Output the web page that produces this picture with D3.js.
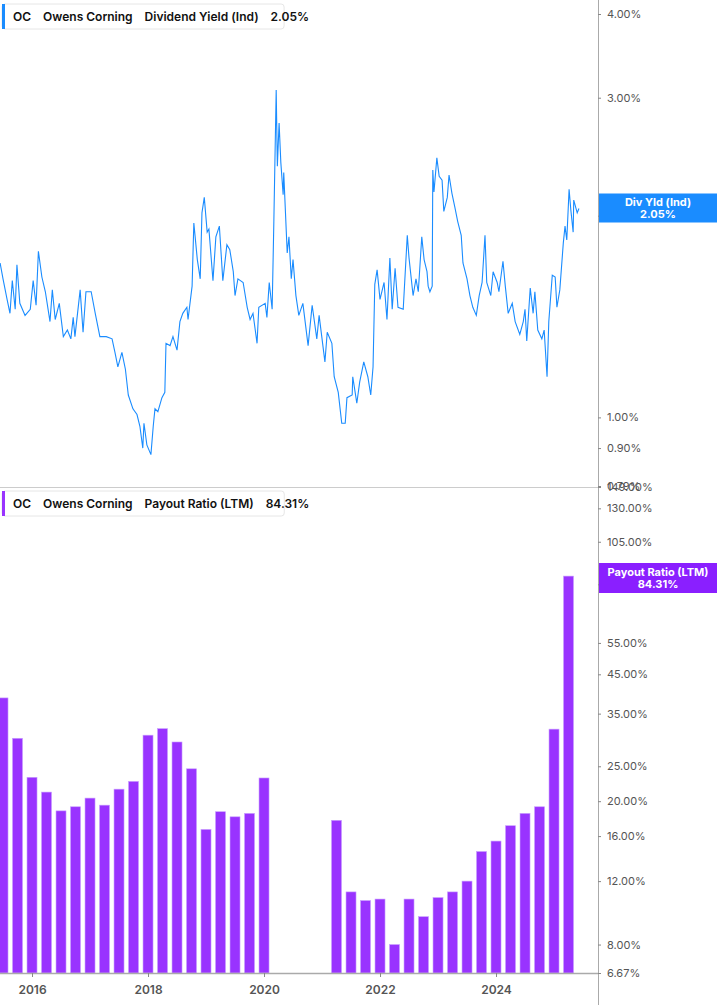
<!DOCTYPE html>
<html>
<head>
<meta charset="utf-8">
<script src="https://cdn.jsdelivr.net/npm/d3@7"></script>
<style>
  body { margin: 0; background: #fff; font-family: Inter, 'Noto Sans', sans-serif; }
  svg text { font-family: Inter, 'Noto Sans', sans-serif; }
</style>
</head>
<body>
<svg id="chart" width="717" height="1005"></svg>
<script>
// Dividend yield (decimal year, %)
const yieldYears = [2015.45,2015.50,2015.57,2015.62,2015.66,2015.71,2015.74,2015.79,2015.88,2015.97,2016.02,2016.07,2016.11,2016.17,2016.23,2016.31,2016.35,2016.40,2016.47,2016.54,2016.61,2016.67,2016.71,2016.74,2016.83,2016.88,2016.93,2017.02,2017.09,2017.17,2017.28,2017.38,2017.43,2017.48,2017.55,2017.61,2017.66,2017.74,2017.81,2017.86,2017.91,2017.93,2017.98,2018.05,2018.09,2018.12,2018.17,2018.24,2018.29,2018.31,2018.38,2018.43,2018.50,2018.55,2018.60,2018.67,2018.69,2018.76,2018.79,2018.85,2018.90,2018.93,2018.97,2019.02,2019.05,2019.12,2019.17,2019.23,2019.29,2019.36,2019.41,2019.47,2019.50,2019.55,2019.64,2019.71,2019.76,2019.81,2019.88,2019.91,2020.02,2020.05,2020.09,2020.14,2020.17,2020.21,2020.23,2020.26,2020.29,2020.33,2020.34,2020.40,2020.43,2020.47,2020.50,2020.55,2020.60,2020.67,2020.76,2020.83,2020.91,2020.95,2021.05,2021.09,2021.17,2021.21,2021.28,2021.34,2021.40,2021.43,2021.52,2021.53,2021.60,2021.65,2021.72,2021.79,2021.84,2021.88,2021.91,2021.95,2022.00,2022.07,2022.12,2022.17,2022.21,2022.26,2022.31,2022.40,2022.47,2022.50,2022.57,2022.62,2022.66,2022.72,2022.76,2022.81,2022.83,2022.86,2022.90,2022.91,2022.93,2022.98,2023.02,2023.07,2023.10,2023.16,2023.19,2023.24,2023.29,2023.34,2023.40,2023.43,2023.50,2023.55,2023.60,2023.66,2023.71,2023.76,2023.81,2023.84,2023.91,2023.95,2024.02,2024.05,2024.12,2024.16,2024.21,2024.28,2024.33,2024.41,2024.47,2024.50,2024.53,2024.59,2024.64,2024.67,2024.72,2024.79,2024.83,2024.88,2024.91,2024.97,2025.02,2025.05,2025.10,2025.16,2025.19,2025.22,2025.26,2025.29,2025.33,2025.34,2025.40,2025.43];
const yieldValues = [1.70,1.61,1.50,1.43,1.60,1.45,1.69,1.48,1.42,1.45,1.60,1.47,1.77,1.62,1.54,1.39,1.55,1.40,1.48,1.32,1.35,1.31,1.41,1.32,1.55,1.34,1.54,1.54,1.43,1.32,1.32,1.31,1.25,1.19,1.25,1.18,1.08,1.03,1.01,0.97,0.90,0.98,0.91,0.88,0.97,1.03,1.02,1.07,1.09,1.29,1.28,1.32,1.26,1.39,1.43,1.46,1.40,1.57,1.95,1.72,1.61,2.02,2.13,1.89,1.91,1.60,1.86,1.93,1.60,1.81,1.78,1.65,1.52,1.61,1.59,1.46,1.40,1.43,1.29,1.46,1.48,1.41,1.59,1.45,1.97,3.08,2.37,2.75,2.40,2.15,2.32,1.76,1.86,1.61,1.72,1.52,1.42,1.48,1.28,1.47,1.31,1.42,1.21,1.34,1.29,1.15,1.09,0.98,0.98,1.07,1.08,1.15,1.05,1.13,1.21,1.15,1.08,1.19,1.58,1.66,1.50,1.59,1.40,1.73,1.45,1.67,1.46,1.45,1.87,1.73,1.52,1.61,1.54,1.86,1.72,1.65,1.57,1.54,1.57,2.34,2.17,2.44,2.29,2.26,2.03,2.13,2.30,2.16,2.06,1.96,1.87,1.70,1.61,1.52,1.46,1.42,1.52,1.59,1.87,1.59,1.52,1.65,1.59,1.54,1.71,1.57,1.43,1.48,1.39,1.33,1.39,1.45,1.30,1.56,1.43,1.54,1.35,1.31,1.35,1.15,1.39,1.63,1.62,1.46,1.55,1.82,1.93,1.84,2.19,2.04,1.89,2.11,2.02,2.05];

// Payout ratio, quarter ends 2015 Q2 .. 2025 Q1 (%)
const payoutQuarters = [2015.50,2015.75,2016.00,2016.25,2016.50,2016.75,2017.00,2017.25,2017.50,2017.75,2018.00,2018.25,2018.50,2018.75,2019.00,2019.25,2019.50,2019.75,2020.00,2020.25,2020.50,2020.75,2021.00,2021.25,2021.50,2021.75,2022.00,2022.25,2022.50,2022.75,2023.00,2023.25,2023.50,2023.75,2024.00,2024.25,2024.50,2024.75,2025.00,2025.25];
const payoutValues = [38.7,29.9,23.3,21.2,18.8,19.3,20.4,19.5,21.6,22.7,30.5,31.8,29.2,24.6,16.7,18.7,18.1,18.5,23.2,null,null,null,null,17.7,11.2,10.6,10.7,8.0,10.7,9.56,10.8,11.2,12.0,14.5,15.5,17.1,18.5,19.3,31.7,84.31];

const yieldTicks = [4, 3, 2, 1, 0.9, 0.79];
const payoutTicks = [149, 130, 105, 80, 55, 45, 35, 25, 20, 16, 12, 8, 6.67];
const yearTicks = [2016, 2018, 2020, 2022, 2024];

const blue = '#1a8cff';
const purple = '#9933ff';
const axisX = 598;

const svg = d3.select('#chart');

const x = d3.scaleLinear().domain([2015.448, 2015.448 + axisX / 58]).range([0, axisX]);
const yTop = d3.scaleLog().domain([0.79, 4]).range([486, 14]);
const yBot = d3.scaleLog().domain([6.67, 149]).range([973, 487]);

// top line
svg.append('path')
  .datum(yieldYears.map((d, i) => [d, yieldValues[i]]))
  .attr('fill', 'none')
  .attr('stroke', blue)
  .attr('stroke-width', 1.1)
  .attr('d', d3.line().x((d) => x(d[0])).y((d) => yTop(d[1])));

// bars
const barW = 10;
svg.append('g')
  .selectAll('rect')
  .data(payoutQuarters.map((d, i) => ({ q: d, v: payoutValues[i] })).filter((d) => d.v != null))
  .join('rect')
  .attr('x', (d) => x(d.q) - barW / 2)
  .attr('width', barW)
  .attr('y', (d) => yBot(d.v))
  .attr('height', (d) => 973 - yBot(d.v))
  .attr('fill', purple)
  .attr('stroke', '#c9a0ff')
  .attr('stroke-width', 0.6);

// separator + right axis line + bottom axis line
svg.append('line').attr('x1', 0).attr('x2', axisX).attr('y1', 487.5).attr('y2', 487.5).attr('stroke', '#ccc');
svg.append('line').attr('x1', axisX + 0.5).attr('x2', axisX + 0.5).attr('y1', 0).attr('y2', 1005).attr('stroke', '#aaa');
svg.append('line').attr('x1', 0).attr('x2', axisX).attr('y1', 973.5).attr('y2', 973.5).attr('stroke', '#aaa').attr('stroke-width', 1.5);

// right axes
const fmt = (d) => d.toFixed(2) + '%';
const axTop = svg.append('g').attr('transform', `translate(${axisX},0)`)
  .call(d3.axisRight(yTop).tickValues(yieldTicks).tickFormat(fmt).tickSize(3).tickPadding(6));
const axBot = svg.append('g').attr('transform', `translate(${axisX},0)`)
  .call(d3.axisRight(yBot).tickValues(payoutTicks).tickFormat(fmt).tickSize(3).tickPadding(6));
[axTop, axBot].forEach((g) => {
  g.select('.domain').remove();
  g.selectAll('line').attr('stroke', '#888');
  g.selectAll('text').attr('fill', '#555').style('font-size', '11px');
});

// x axis
const axX = svg.append('g').attr('transform', 'translate(0,973)')
  .call(d3.axisBottom(x).tickValues(yearTicks).tickFormat(d3.format('d')).tickSize(4).tickPadding(8));
axX.select('.domain').remove();
axX.selectAll('line').attr('stroke', '#888');
axX.selectAll('text').attr('fill', '#555').style('font-size', '12px').style('font-weight', 600);

// value tags
function tag(yc, h, color, label, value) {
  const g = svg.append('g');
  g.append('rect').attr('x', axisX + 1).attr('y', yc - h / 2).attr('width', 717 - axisX).attr('height', h).attr('fill', color);
  g.append('text').attr('x', 658).attr('y', yc - 2).attr('text-anchor', 'middle').attr('fill', '#fff')
    .style('font-size', '11px').style('font-weight', 700).text(label);
  g.append('text').attr('x', 658).attr('y', yc + 10).attr('text-anchor', 'middle').attr('fill', '#fff')
    .style('font-size', '11px').style('font-weight', 700).text(value);
}
tag(208, 29, blue, 'Div Yld (Ind)', '2.05%');
tag(578, 30, '#8a1fff', 'Payout Ratio (LTM)', '84.31%');

// legends
function legend(y0, color, parts) {
  const g = svg.append('g').attr('transform', `translate(2,${y0})`);
  const bg = g.append('rect').attr('width', 303).attr('height', 25).attr('rx', 3)
    .attr('fill', '#fff').attr('stroke', '#e6e6e6');
  g.append('rect').attr('width', 3).attr('height', 25).attr('fill', color);
  const t = g.append('text').attr('x', 11).attr('y', 17).attr('fill', '#111')
    .style('font-size', '12px').style('font-weight', 600);
  parts.forEach((p, i) => t.append('tspan').attr('dx', i ? 12 : 0).text(p));
  bg.attr('width', t.node().getComputedTextLength() + 22);
}
legend(4, blue, ['OC', 'Owens Corning', 'Dividend Yield (Ind)', '2.05%']);
legend(491, purple, ['OC', 'Owens Corning', 'Payout Ratio (LTM)', '84.31%']);
</script>
</body>
</html>
